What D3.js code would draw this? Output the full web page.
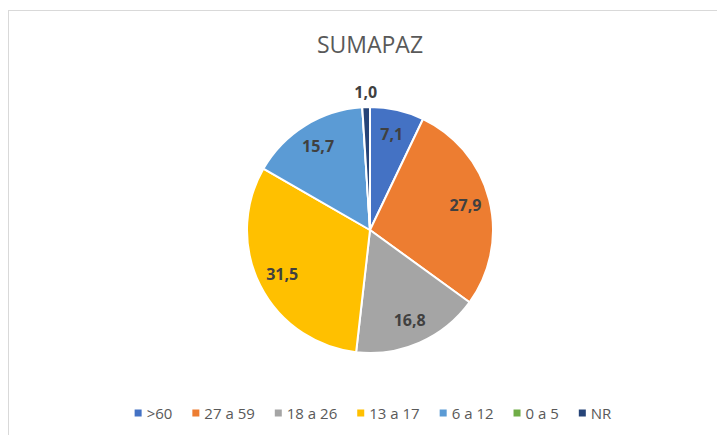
<!DOCTYPE html>
<html>
<head>
<meta charset="utf-8">
<script src="https://cdn.jsdelivr.net/npm/d3@7"></script>
<style>
  body { margin: 0; background: #fff; }
  svg { display: block; font-family: "Open Sans", sans-serif; }
</style>
</head>
<body>
<div id="chart-area"></div>
<script>
// chart data
var title = "SUMAPAZ";
var categories = [">60", "27 a 59", "18 a 26", "13 a 17", "6 a 12", "0 a 5", "NR"];
var values = [7.1, 27.9, 16.8, 31.5, 15.7, 0, 1.0];
var colors = ["#4472C4", "#ED7D31", "#A5A5A5", "#FFC000", "#5B9BD5", "#70AD47", "#264478"];

var width = 717, height = 435;

var svg = d3.select("#chart-area").append("svg")
    .attr("width", width)
    .attr("height", height);

// chart frame
svg.append("rect")
    .attr("x", 8.5)
    .attr("y", 10.5)
    .attr("width", width + 20)
    .attr("height", height + 20)
    .style("fill", "#fff")
    .style("stroke", "#D9D9D9");

// title
svg.append("text")
    .attr("x", 370)
    .attr("y", 53)
    .attr("text-anchor", "middle")
    .style("font-size", "23px")
    .style("fill", "#595959")
    .text(title);

var data = categories.map(function(c, i) {
    return {name: c, value: values[i], color: colors[i]};
});

var radius = 123;
var pie = d3.pie()
    .sort(null)
    .value(function(d) { return d.value; });

var arc = d3.arc().innerRadius(0).outerRadius(radius);
var labelArc = d3.arc().innerRadius(radius * 0.8).outerRadius(radius * 0.8);
var outerArc = d3.arc().innerRadius(radius + 15).outerRadius(radius + 15);

var g = svg.append("g")
    .attr("transform", "translate(370,230)");

var arcs = pie(data);

g.selectAll("path.slice")
    .data(arcs)
    .enter().append("path")
    .attr("class", "slice")
    .attr("d", arc)
    .style("fill", function(d) { return d.data.color; })
    .style("stroke", "#fff")
    .style("stroke-width", 2)
    .style("stroke-linejoin", "round");

// data labels, small slices go outside
g.selectAll("text.label")
    .data(arcs.filter(function(d) { return d.data.value > 0; }))
    .enter().append("text")
    .attr("class", "label")
    .attr("transform", function(d) {
        var c = d.data.value < 3 ? outerArc.centroid(d) : labelArc.centroid(d);
        return "translate(" + c + ")";
    })
    .attr("text-anchor", "middle")
    .attr("dy", "0.35em")
    .style("font-size", "16px")
    .style("font-weight", "bold")
    .style("fill", "#404040")
    .text(function(d) { return d3.format(".1f")(d.data.value).replace(".", ","); });

// legend
var legend = svg.append("g").attr("class", "legend");
var items = legend.selectAll("g")
    .data(data)
    .enter().append("g");

items.append("rect")
    .attr("y", 409.5)
    .attr("width", 7)
    .attr("height", 7)
    .style("fill", function(d) { return d.color; });

items.append("text")
    .attr("x", 12)
    .attr("y", 418.5)
    .style("font-size", "15px")
    .style("fill", "#595959")
    .text(function(d) { return d.name; });

// lay legend items out in a row, centered
var offs = [], xpos = 0;
items.each(function() {
    var w = 12 + d3.select(this).select("text").node().getComputedTextLength();
    offs.push(xpos);
    xpos += w + 20;
});
var total = xpos - 20;
var start = 373 - total / 2;
items.attr("transform", function(d, i) { return "translate(" + (start + offs[i]) + ",0)"; });
</script>
</body>
</html>
